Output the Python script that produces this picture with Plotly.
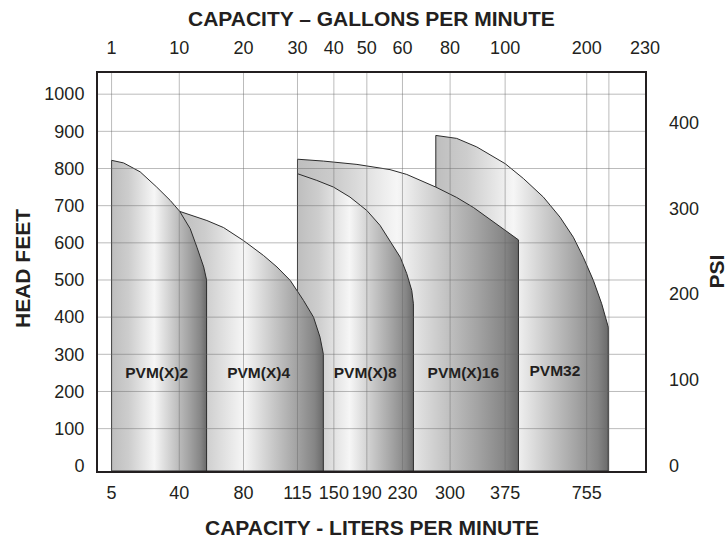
import numpy as np
import plotly.graph_objects as go

# ---------------- data ----------------
# top axis: capacity in US gallons per minute; bottom axis: liters per minute
gpm_ticks = [1, 10, 20, 30, 40, 50, 60, 80, 100, 200, 230]
gpm_labels = ["1", "10", "20", "30", "40", "50", "60", "80", "100", "200", "230"]
lpm_labels = ["5", "40", "80", "115", "150", "190", "230", "300", "375", "755", ""]
extra_grid_gpm = [211.4]          # 800 l/min grid line (unlabelled)

head_ticks = [0, 100, 200, 300, 400, 500, 600, 700, 800, 900, 1000]
psi_ticks = [0, 100, 200, 300, 400]
FT_PER_PSI = 2.31

pump_names = ["PVM32", "PVM(X)16", "PVM(X)8", "PVM(X)4", "PVM(X)2"]

pvm2_gpm = [1, 2.6, 4.8, 7.0, 8.8, 10.05, 11.7, 12.75, 13.8, 14.25]
pvm2_head = [822, 815, 791, 750, 714, 685, 638, 588, 535, 500]

pvm4_gpm = [10, 14.3, 16.9, 20, 23.7, 26.2, 28.65, 31.65, 34.4, 36.2, 37.1]
pvm4_head = [685, 660, 641, 606, 566, 535, 499, 445, 400, 346, 301]

pvm8_gpm = [30, 35.3, 39.9, 44.9, 50, 53.7, 56.5, 59.4, 61.8, 63.9, 64.6]
pvm8_head = [786, 768, 750, 723, 687, 647, 606, 561, 517, 472, 436]

pvm16_gpm = [30, 37.1, 47.0, 56.5, 61.8, 74.0, 82.4, 88.5, 97.0, 116.3]
pvm16_head = [825, 820, 811, 797, 784, 750, 722, 695, 651, 608]

pvm32_gpm = [74, 82.4, 89.7, 100, 122.4, 146.9, 167.3, 183.6, 195.8, 203.4, 207.7, 211.1]
pvm32_head = [889, 881, 858, 813, 773, 723, 669, 615, 561, 499, 436, 373]

label_gpm = [161, 84.8, 49.5, 22.8, 7.0]
label_head = [251, 247, 247, 247, 247]

# ---------------- custom (non-uniform) capacity scale ----------------
# the chart's capacity axis is hand-spaced: each gpm tick sits at its own place
SCALE_GPM = gpm_ticks
SCALE_POS = [24.8, 148.6, 266.0, 364.7, 431.2, 491.5, 556.6, 643.7, 744.3, 893.5, 1000.0]


def cap(g):
    return np.interp(np.asarray(g, dtype=float), SCALE_GPM, SCALE_POS)


Y_MIN, Y_MAX = -14, 1057
INK = "#231f20"

grad = [[0.0, "#bebebe"], [0.18, "#cdcdcd"], [0.45, "#f6f6f6"],
        [0.62, "#cfcfcf"], [0.82, "#a2a2a2"], [0.94, "#858585"], [1.0, "#6a6a6a"]]

fig = go.Figure()

series = [(pvm32_gpm, pvm32_head), (pvm16_gpm, pvm16_head), (pvm8_gpm, pvm8_head),
          (pvm4_gpm, pvm4_head), (pvm2_gpm, pvm2_head)]
for name, (g, h) in zip(pump_names, series):
    xs = cap([g[0]] + list(g) + [g[-1], g[0]])
    ys = [Y_MIN] + list(h) + [Y_MIN, Y_MIN]
    fig.add_trace(go.Scatter(
        x=xs, y=ys, mode="lines", fill="toself", name=name,
        line=dict(color="#2b2b2b", width=1),
        fillgradient=dict(type="horizontal", colorscale=grad),
        hoverinfo="skip", showlegend=False, xaxis="x", yaxis="y"))

# pump labels
fig.add_trace(go.Scatter(
    x=cap(label_gpm), y=label_head, mode="text", text=pump_names,
    textfont=dict(family="Liberation Sans, Arial, sans-serif",
                  size=15.5, color=INK, weight="bold"),
    hoverinfo="skip", showlegend=False, xaxis="x", yaxis="y"))

# grid drawn over the shaded areas
grid_col = "rgba(105,105,105,0.45)"
for gx in list(gpm_ticks[:-1]) + extra_grid_gpm:
    p = float(cap(gx))
    fig.add_shape(type="line", xref="x", yref="paper", x0=p, x1=p, y0=0, y1=1,
                  line=dict(color=grid_col, width=1), layer="above")
for hy in head_ticks[1:]:
    fig.add_shape(type="line", xref="paper", yref="y", x0=0, x1=1, y0=hy, y1=hy,
                  line=dict(color=grid_col, width=1), layer="above")

tick_font = dict(family="Liberation Sans, Arial, sans-serif", size=18, color=INK)
title_font = dict(family="Liberation Sans, Arial, sans-serif", size=21, color=INK, weight="bold")

fig.update_layout(
    width=728, height=544,
    margin=dict(l=98, r=83, t=73, b=73),
    paper_bgcolor="white", plot_bgcolor="white",
    xaxis=dict(range=[0, 1000], tickvals=list(cap(gpm_ticks)), ticktext=lpm_labels,
               showgrid=False, zeroline=False, showline=True, mirror=True,
               linecolor=INK, linewidth=2, ticks="", tickfont=tick_font,
               ticklabelstandoff=4, layer="above traces", fixedrange=True),
    xaxis2=dict(range=[0, 1000], overlaying="x", side="top",
                tickvals=list(cap(gpm_ticks)), ticktext=gpm_labels,
                showgrid=False, zeroline=False, showline=False, ticks="",
                tickfont=tick_font, ticklabelstandoff=14, fixedrange=True),
    yaxis=dict(range=[Y_MIN, Y_MAX], tickvals=head_ticks, showgrid=False,
               zeroline=False, showline=True, mirror=True, linecolor=INK,
               linewidth=2, ticks="", tickfont=tick_font, ticklabelstandoff=8,
               layer="above traces", fixedrange=True),
    yaxis2=dict(range=[Y_MIN / FT_PER_PSI, Y_MAX / FT_PER_PSI], overlaying="y",
                side="right", tickvals=psi_ticks, showgrid=False, zeroline=False,
                showline=False, ticks="", tickfont=tick_font,
                ticklabelstandoff=23, fixedrange=True),
    showlegend=False,
)
# dummy trace so top / right axes are drawn
fig.add_trace(go.Scatter(x=[None], y=[None], xaxis="x2", yaxis="y2",
                         showlegend=False, hoverinfo="skip"))

fig.add_annotation(text="CAPACITY – GALLONS PER MINUTE", xref="paper", yref="paper",
                   x=0.5, y=1.137, showarrow=False, font=title_font,
                   xanchor="center", yanchor="middle")
fig.add_annotation(text="CAPACITY - LITERS PER MINUTE", xref="paper", yref="paper",
                   x=0.5, y=-0.143, showarrow=False, font=title_font,
                   xanchor="center", yanchor="middle")
fig.add_annotation(text="HEAD FEET", xref="paper", yref="paper", x=-0.139, y=0.51,
                   showarrow=False, font=title_font, textangle=-90,
                   xanchor="center", yanchor="middle")
fig.add_annotation(text="PSI", xref="paper", yref="paper", x=1.129, y=0.5,
                   showarrow=False, font=title_font, textangle=-90,
                   xanchor="center", yanchor="middle")

fig.write_html("out.html", config={"displayModeBar": False, "staticPlot": True},
               post_script="document.body.style.margin='0';")
